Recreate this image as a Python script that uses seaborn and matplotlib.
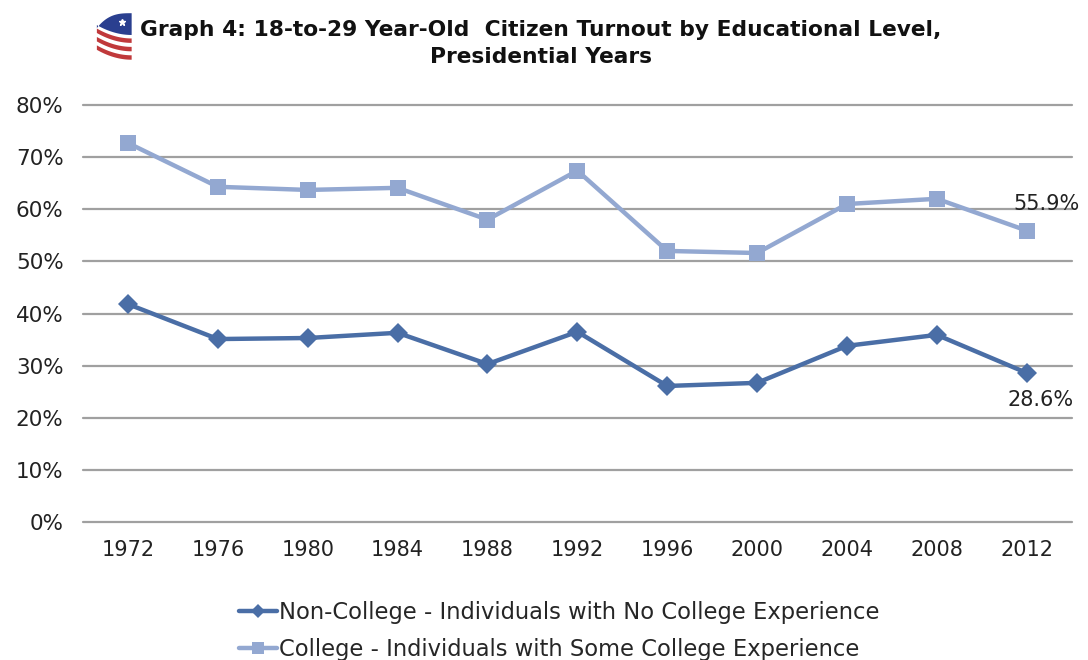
import matplotlib
matplotlib.use("Agg")
import matplotlib.pyplot as plt
import matplotlib.patches as mpatches
import seaborn as sns
import pandas as pd
import numpy as np

years = [1972, 1976, 1980, 1984, 1988, 1992, 1996, 2000, 2004, 2008, 2012]
non_college = [41.8, 35.1, 35.3, 36.3, 30.3, 36.5, 26.1, 26.7, 33.8, 35.9, 28.6]
college = [72.7, 64.3, 63.7, 64.1, 58.0, 67.4, 52.0, 51.6, 61.0, 62.0, 55.9]
series_names = ["Non-College - Individuals with No College Experience",
                "College - Individuals with Some College Experience"]
y_ticks = [0, 10, 20, 30, 40, 50, 60, 70, 80]

df = pd.concat([
    pd.DataFrame({"year": years, "turnout": non_college, "series": series_names[0]}),
    pd.DataFrame({"year": years, "turnout": college, "series": series_names[1]}),
])

sns.set_style("white")
plt.rcParams['font.family'] = ['DejaVu Sans']

fig = plt.figure(figsize=(10.88, 6.6), dpi=100)
ax = fig.add_axes([0.0763, 0.209, 0.9087, 0.632])

dark = "#4a6ea6"
light = "#93a8d1"
palette = {series_names[0]: dark, series_names[1]: light}
markers = {series_names[0]: "D", series_names[1]: "s"}

sns.lineplot(data=df, x="year", y="turnout", hue="series", style="series",
             palette=palette, markers=markers, dashes=False, linewidth=3.2,
             markersize=12, markeredgewidth=0, ax=ax, legend=False)
for line in ax.lines:
    if line.get_marker() == "D":
        line.set_markersize(10)

ax.set_xlim(1970, 2014)
ax.set_ylim(0, 80)
ax.set_xticks(years)
ax.set_xticklabels([str(y) for y in years], fontsize=15, color="#222222")
ax.set_yticks(y_ticks)
ax.set_yticklabels([f"{v}%" for v in y_ticks], fontsize=15.5, color="#222222")
ax.tick_params(axis="both", length=0)
ax.tick_params(axis="y", pad=14)
ax.tick_params(axis="x", pad=13)
ax.set_xlabel("")
ax.set_ylabel("")
for s in ax.spines.values():
    s.set_visible(False)
for v in y_ticks:
    ax.axhline(v, color="#a0a0a0", linewidth=1.6, zorder=0, clip_on=False)

ax.annotate(f"{college[-1]:.1f}%", (years[-1], college[-1]), xytext=(14, 19.5),
            textcoords="offset points", ha="center", va="center", fontsize=15,
            color="#222222", annotation_clip=False)
ax.annotate(f"{non_college[-1]:.1f}%", (years[-1], non_college[-1]), xytext=(10, -19.5),
            textcoords="offset points", ha="center", va="center", fontsize=15,
            color="#222222", annotation_clip=False)

fig.text(0.497, 0.955, "Graph 4: 18-to-29 Year-Old  Citizen Turnout by Educational Level,",
         ha="center", va="center", fontsize=15.7, fontweight="bold", color="#111111")
fig.text(0.497, 0.913, "Presidential Years", ha="center", va="center",
         fontsize=15.7, fontweight="bold", color="#111111")

# small logo
lax = fig.add_axes([0.087, 0.905, 0.034, 0.075])
lax.set_xlim(0, 1)
lax.set_ylim(0, 1)
lax.axis("off")
s = np.linspace(0, 1, 40)
xs = 0.06 + 0.94 * s
for yc in [0.40, 0.23, 0.06]:
    curve = 0.2 * (1 - s) ** 2
    band = np.vstack([np.column_stack([xs, yc + curve]),
                      np.column_stack([xs[::-1], (yc + 0.09 + curve)[::-1]])])
    lax.add_patch(mpatches.Polygon(band, closed=True, color="#c0393b", lw=0))
curve = 0.2 * (1 - s) ** 2
topx = 0.06 + 0.94 * s
topy = 1.0 - 0.3 * (1 - s) ** 3
poly = np.vstack([np.column_stack([xs, 0.56 + curve]),
                  np.column_stack([topx[::-1], topy[::-1]])])
lax.add_patch(mpatches.Polygon(poly, closed=True, color="#2a3f8f", lw=0))
lax.plot([0.75], [0.82], marker="*", color="white", markersize=4.5)

handles = [
    plt.Line2D([], [], color=dark, marker="D", markersize=7, linewidth=3.2, markeredgewidth=0),
    plt.Line2D([], [], color=light, marker="s", markersize=8, linewidth=3.2, markeredgewidth=0),
]
fig.legend(handles, series_names, loc="upper center", bbox_to_anchor=(0.514, 0.103),
           frameon=False, fontsize=16.3, handlelength=1.7, handletextpad=0.08,
           labelspacing=0.6, ncol=1, borderaxespad=0)

fig.savefig("out.png", dpi=100)
